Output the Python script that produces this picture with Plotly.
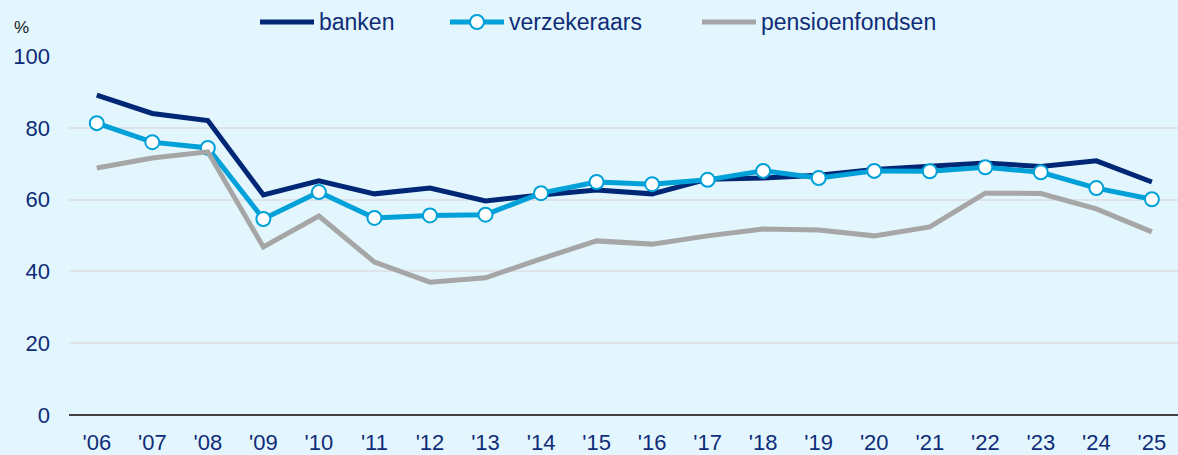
import plotly.graph_objects as go

years = ["'06", "'07", "'08", "'09", "'10", "'11", "'12", "'13", "'14", "'15",
         "'16", "'17", "'18", "'19", "'20", "'21", "'22", "'23", "'24", "'25"]

banken = [89.1, 84.0, 82.0, 61.3, 65.2, 61.6, 63.2, 59.6, 61.3, 62.7,
          61.6, 65.7, 66.0, 66.8, 68.4, 69.4, 70.2, 69.2, 70.8, 64.9]
verzekeraars = [81.3, 76.0, 74.4, 54.6, 62.1, 54.9, 55.6, 55.8, 61.8, 64.9,
                64.3, 65.5, 68.0, 66.0, 68.0, 67.9, 69.0, 67.6, 63.2, 60.1]
pensioenfondsen = [68.8, 71.6, 73.3, 46.8, 55.4, 42.6, 37.0, 38.2, 43.5, 48.5,
                   47.6, 49.9, 51.8, 51.5, 49.9, 52.4, 61.8, 61.7, 57.4, 51.0]

navy = "#002776"
blue = "#00A0D8"
grey = "#A6A6A6"
text_col = "#0F2C78"
bg = "#E3F6FD"
font = "Arial, Liberation Sans, sans-serif"

x = list(range(len(years)))

fig = go.Figure()
fig.add_trace(go.Scatter(x=x, y=banken, name="banken", mode="lines",
                         line=dict(color=navy, width=5)))
fig.add_trace(go.Scatter(x=x, y=verzekeraars, name="verzekeraars", mode="lines+markers",
                         line=dict(color=blue, width=5),
                         marker=dict(size=14, color="white", line=dict(color=blue, width=2))))
fig.add_trace(go.Scatter(x=x, y=pensioenfondsen, name="pensioenfondsen", mode="lines",
                         line=dict(color=grey, width=5)))

# plot area: 69..1178 px wide, 56..415 px tall
W, L = 1109, 69
H, B = 359, 415
def px(v):
    return (v - L) / W
def py(v):
    return (B - v) / H

# hand-made legend with longer line swatches
leg_y = py(22)
legend_items = [("banken", navy, 260, False), ("verzekeraars", blue, 450, True),
                ("pensioenfondsen", grey, 702, False)]
shapes = []
annotations = []
for name, col, x0, marker in legend_items:
    shapes.append(dict(type="line", xref="paper", yref="paper",
                       x0=px(x0), x1=px(x0 + 54), y0=leg_y, y1=leg_y,
                       line=dict(color=col, width=5)))
    if marker:
        shapes.append(dict(type="circle", xref="paper", yref="paper",
                           xsizemode="pixel", ysizemode="pixel",
                           xanchor=px(x0 + 27), yanchor=leg_y,
                           x0=-7, x1=7, y0=-7, y1=7,
                           fillcolor="white", line=dict(color=col, width=2)))
    annotations.append(dict(text=name, xref="paper", yref="paper",
                            x=px(x0 + 57), y=leg_y, xanchor="left", yanchor="middle",
                            showarrow=False, font=dict(size=23, color=text_col)))

annotations.append(dict(text="%", xref="paper", yref="paper", x=px(12), y=py(27),
                        xanchor="left", yanchor="middle", showarrow=False,
                        font=dict(size=17, color="#1a1a1a")))

fig.update_layout(
    width=1178, height=455,
    paper_bgcolor=bg, plot_bgcolor=bg,
    margin=dict(l=69, r=0, t=56, b=40),
    font=dict(family=font, size=22, color=text_col),
    showlegend=False,
    xaxis=dict(tickvals=x, ticktext=years, range=[-0.5, 19.47],
               showgrid=False, zeroline=False, showline=False,
               ticks="", ticklabelstandoff=12,
               tickfont=dict(size=22, color=text_col)),
    yaxis=dict(range=[0, 100], tickvals=[0, 20, 40, 60, 80, 100],
               showgrid=True, gridcolor="#DDE3E6", gridwidth=2,
               zeroline=True, zerolinecolor="#404040", zerolinewidth=2,
               ticks="", ticklabelstandoff=18,
               tickfont=dict(size=22, color=text_col)),
    shapes=shapes,
    annotations=annotations,
)

fig.write_html("out.html", config={"displayModeBar": False},
               post_script="document.body.style.margin='0';")
